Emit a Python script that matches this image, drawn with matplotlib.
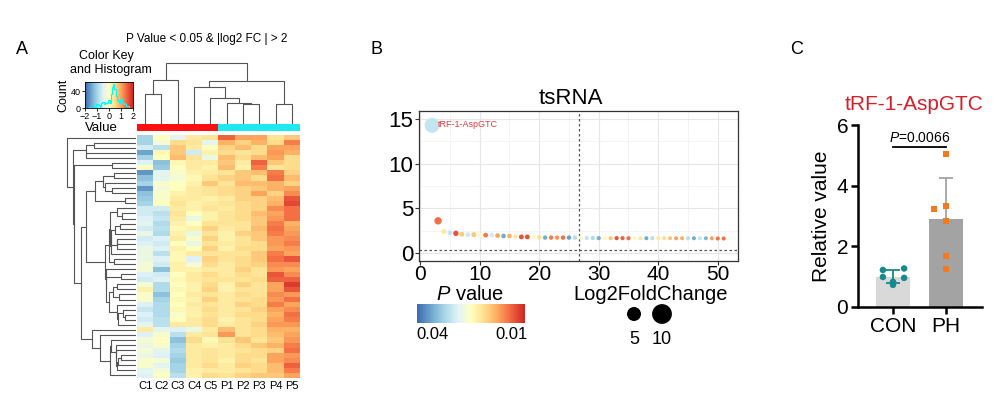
import numpy as np
import matplotlib
matplotlib.use("Agg")
import matplotlib.pyplot as plt
from matplotlib.colors import Normalize, ListedColormap, LinearSegmentedColormap
from matplotlib.ticker import MaxNLocator
import matplotlib.cm as cm

plt.rcParams['font.family'] = ['Liberation Sans', 'DejaVu Sans']
plt.rcParams['mathtext.fontset'] = 'custom'
plt.rcParams['mathtext.it'] = 'Liberation Sans:italic'
plt.rcParams['mathtext.rm'] = 'Liberation Sans'

# ---------------- data ----------------
col_labels = ['C1', 'C2', 'C3', 'C4', 'C5', 'P1', 'P2', 'P3', 'P4', 'P5']
group_labels = ['CON'] * 5 + ['PH'] * 5
heat_values = [
    [-1.0, 0.0, -0.4, 0.3, 0.4, 1.5, 1.0, 1.0, 0.4, 0.7],
    [-1.0, -0.2, 0.5, 0.4, -0.4, 0.9, 0.6, 0.9, 0.5, 1.3],
    [-0.6, -0.8, 0.7, 0.3, 0.0, 0.6, 0.8, 0.5, 1.0, 1.0],
    [-1.5, 0.1, 0.7, -0.6, 0.2, 0.5, 0.4, 0.5, 1.1, 0.9],
    [-1.0, 0.0, 0.8, 0.4, -0.3, 0.8, 0.5, 0.8, 1.0, 0.5],
    [-0.5, -1.2, 0.1, 0.3, 0.3, 0.7, 0.3, 1.5, 0.7, 0.5],
    [0.0, -1.1, 0.0, 0.3, 0.2, 0.8, 0.2, 1.3, 0.4, 0.5],
    [-1.6, -0.4, -0.1, 0.2, 0.3, 0.4, 0.7, 0.8, 1.3, 0.6],
    [-1.2, -0.4, -0.2, 0.1, 0.4, 0.6, 0.7, 0.5, 1.4, 0.8],
    [-1.0, -0.1, 0.0, 0.2, 0.7, 0.4, 0.8, 0.8, 0.9, 0.6],
    [-1.6, -0.2, 0.0, 0.3, 0.4, 0.5, 0.6, 0.7, 0.9, 1.0],
    [-1.2, -0.1, 0.2, 0.3, 0.4, 0.5, 0.6, 1.0, 0.6, 1.2],
    [-1.1, -0.1, 0.3, 0.3, 0.2, 0.3, 0.6, 0.6, 0.8, 1.6],
    [-1.0, 0.0, 0.4, 0.2, 0.3, 0.4, 0.5, 0.6, 0.9, 1.7],
    [-0.6, -0.6, 0.3, 0.2, 0.4, 0.3, 0.5, 0.6, 1.2, 1.4],
    [-0.6, -0.8, 0.4, 0.0, 0.2, 0.4, 0.5, 0.8, 1.0, 1.4],
    [-0.5, -0.7, 0.3, -0.3, 0.2, 0.4, 0.5, 0.7, 1.1, 1.4],
    [-0.4, -0.9, 0.2, 0.0, 0.4, 0.4, 0.4, 0.7, 1.3, 0.9],
    [-0.6, -0.8, 0.1, 0.2, 0.6, 0.3, 0.4, 0.8, 1.4, 1.0],
    [-0.3, -0.9, 0.2, -0.3, 0.4, 0.2, 0.6, 0.7, 1.3, 1.1],
    [-0.6, -0.5, 0.3, -0.1, 0.6, 0.2, 0.4, 0.7, 1.1, 1.2],
    [-0.5, -0.6, 0.0, -0.3, 0.4, 0.3, 0.4, 0.5, 1.1, 1.3],
    [-0.3, -0.5, 0.2, 0.0, 0.6, 0.2, 0.5, 0.5, 1.0, 1.1],
    [-0.3, -0.8, 0.1, 0.3, 0.4, 0.4, 0.4, 0.7, 1.3, 1.0],
    [-0.3, -0.5, 0.1, -0.5, 0.6, 0.4, 0.5, 0.7, 1.4, 1.6],
    [-0.2, -0.6, 0.2, -0.2, 0.5, 0.3, 0.5, 0.6, 1.2, 1.2],
    [-0.2, -1.2, 0.2, 0.2, 0.3, 0.3, 0.6, 0.4, 1.1, 1.0],
    [-0.5, -0.6, 0.0, 0.3, 0.5, 0.3, 0.5, 0.4, 1.6, 1.2],
    [-0.6, -0.5, 0.1, 0.3, 0.4, 0.4, 0.4, 0.5, 1.5, 1.5],
    [-0.2, -0.9, 0.0, 0.2, 0.5, 0.2, 0.6, 0.4, 1.0, 1.8],
    [0.2, -0.9, 0.1, 0.2, 0.6, 0.2, 0.4, 0.4, 1.0, 1.6],
    [-0.1, -1.2, 0.0, 0.3, 0.4, 0.3, 0.5, 0.4, 1.2, 1.1],
    [-0.1, -1.0, 0.1, 0.2, 0.6, 0.3, 0.4, 0.5, 1.1, 1.4],
    [-0.5, -0.9, 0.0, 0.3, 0.4, 0.3, 0.6, 0.5, 1.3, 1.0],
    [-0.7, -0.9, 0.1, 0.2, 0.5, 0.3, 0.4, 0.6, 1.0, 1.2],
    [-0.5, -0.9, -0.1, 0.2, 0.4, 0.3, 0.5, 0.5, 0.9, 1.4],
    [-0.6, -0.8, 0.0, 0.3, 0.5, 0.2, 0.4, 0.5, 1.0, 1.3],
    [-0.4, -0.8, 0.3, 0.3, 0.5, 0.3, 0.4, 0.6, 1.1, 1.1],
    [0.3, -0.4, -0.5, -0.3, 0.3, 0.8, 0.4, 0.5, 0.9, 0.9],
    [-0.5, -0.1, -0.8, 0.3, 0.4, 1.1, 0.4, 0.5, 0.8, 1.0],
    [-0.2, 0.0, -1.2, 0.5, 0.1, 0.4, 0.7, 0.4, 0.7, 1.1],
    [-0.3, -0.1, -1.0, 0.3, 0.2, 0.3, 0.5, 0.7, 0.9, 1.3],
    [-0.2, -0.4, -0.9, 0.3, 0.4, 0.3, 0.4, 0.5, 0.6, 1.4],
    [-0.3, -0.5, -1.0, 0.3, 0.4, 0.3, 0.5, 0.5, 1.0, 1.1],
    [-0.1, -0.2, -1.1, 0.3, 0.4, 0.2, 0.5, 0.4, 1.0, 1.2],
    [-0.1, -0.4, -1.0, 0.3, 0.5, 0.3, 0.6, 0.5, 0.8, 1.5],
    [-0.4, -0.2, -1.0, 0.2, 0.3, 0.3, 0.4, 0.5, 0.8, 1.3],
    [-0.5, 0.0, -0.8, 0.2, 0.5, 0.4, 0.6, 0.7, 0.7, 1.0],
]
# column dendrogram merges: (child a, child b, height); new ids start at 10
col_merges = [
    (0, 1, 30), (10, 2, 44), (6, 7, 20), (5, 12, 21), (4, 13, 26),
    (3, 14, 37), (8, 9, 20), (15, 16, 43), (11, 17, 61),
]

# panel B
ts_x = list(range(2, 52))
ts_y = [14.3, 3.6, 2.4, 2.25, 2.2, 2.1, 2.05, 2.05, 2.0, 2.0,
        2.0, 1.95, 1.9, 1.9, 1.85, 1.8, 1.8, 1.78, 1.75, 1.72,
        1.72, 1.72, 1.72, 1.72, 1.72, 1.7, 1.68, 1.68, 1.66, 1.66,
        1.66, 1.66, 1.66, 1.65, 1.65, 1.65, 1.65, 1.65, 1.65, 1.65,
        1.65, 1.65, 1.65, 1.65, 1.65, 1.65, 1.65, 1.65, 1.62, 1.62]
ts_fc = [5.7, 1.4, 0.65, 0.6, 0.75, 0.6, 0.6, 0.6, 0.55, 0.6,
         0.55, 0.55, 0.55, 0.55, 0.5, 0.6, 0.6, 0.5, 0.5, 0.5,
         0.5, 0.5, 0.5, 0.5, 0.5, 0.45, 0.45, 0.45, 0.45, 0.45,
         0.45, 0.45, 0.45, 0.45, 0.42, 0.42, 0.42, 0.42, 0.42, 0.42,
         0.42, 0.42, 0.42, 0.42, 0.42, 0.42, 0.42, 0.42, 0.42, 0.42]
ts_p = [0.033, 0.011, 0.022, 0.033, 0.009, 0.018, 0.032, 0.018, 0.025, 0.012,
        0.032, 0.015, 0.040, 0.016, 0.022, 0.009, 0.009, 0.025, 0.021, 0.040,
        0.012, 0.014, 0.011, 0.041, 0.034, 0.026, 0.033, 0.035, 0.040, 0.025,
        0.018, 0.009, 0.010, 0.011, 0.025, 0.022, 0.040, 0.034, 0.022, 0.021,
        0.018, 0.015, 0.016, 0.034, 0.040, 0.033, 0.039, 0.015, 0.011, 0.011]
label_name = 'tRF-1-AspGTC'
size_keys = [5, 10]
p_ticks = [0.04, 0.01]

# panel C
groups = ['CON', 'PH']
con_values = [1.22, 1.27, 0.99, 0.96, 0.73, 0.83]
ph_values = [5.05, 3.23, 3.33, 2.84, 1.68, 1.25]
p_text = '0.0066'

# ---------------- figure ----------------
W, H = 1008, 397
fig = plt.figure(figsize=(W / 100, H / 100), dpi=100)


def ax_px(x0, y0, x1, y1):
    return fig.add_axes([x0 / W, 1 - y1 / H, (x1 - x0) / W, (y1 - y0) / H])


def ftext(x, y, s, **kw):
    fig.text(x / W, 1 - y / H, s, **kw)


# ======== Panel A ========
hm = np.array(heat_values)
nrow, ncol = hm.shape
base = plt.get_cmap('RdYlBu_r')
cmapA = LinearSegmentedColormap.from_list('soft', base(np.linspace(0.08, 0.92, 256)))

axh = ax_px(137, 135, 300, 378)
axh.imshow(hm, cmap=cmapA, vmin=-2, vmax=2, aspect='auto', interpolation='nearest')
axh.set_xticks(range(ncol))
axh.set_xticklabels(col_labels, fontsize=8)
axh.tick_params(length=0, pad=2)
axh.set_yticks([])
for s in axh.spines.values():
    s.set_visible(False)

# group colour bar
axg = ax_px(137, 124, 300, 131)
gcols = ListedColormap(['#ff1010', '#1ee8f0'])
axg.imshow([[0 if g == 'CON' else 1 for g in group_labels]], cmap=gcols, aspect='auto',
           vmin=0, vmax=1, interpolation='nearest')
axg.axis('off')

# column dendrogram
axcd = ax_px(137, 62, 300, 124)
pos = {i: float(i) for i in range(ncol)}
hgt = {i: 0.0 for i in range(ncol)}
for k, (a, b, h) in enumerate(col_merges):
    nid = ncol + k
    axcd.plot([pos[a], pos[a], pos[b], pos[b]], [hgt[a], h, h, hgt[b]], color='#555555', lw=0.8)
    pos[nid] = (pos[a] + pos[b]) / 2
    hgt[nid] = h
axcd.set_xlim(-0.5, ncol - 0.5)
axcd.set_ylim(0, 62)
axcd.axis('off')

# row dendrogram (adjacent-constrained average linkage on the rows)
clusters = [dict(m=[i], pos=float(i), h=0.0) for i in range(nrow)]
row_links = []
while len(clusters) > 1:
    best = None
    for k in range(len(clusters) - 1):
        A, B = clusters[k], clusters[k + 1]
        d = np.mean([np.linalg.norm(hm[i] - hm[j]) for i in A['m'] for j in B['m']])
        if best is None or d < best[0]:
            best = (d, k)
    d, k = best
    A, B = clusters[k], clusters[k + 1]
    h = max(d, A['h'], B['h']) + 0.02
    row_links.append((A['pos'], A['h'], B['pos'], B['h'], h))
    clusters[k:k + 2] = [dict(m=A['m'] + B['m'], pos=(A['pos'] + B['pos']) / 2, h=h)]
axrd = ax_px(66, 135, 136, 378)
for (pa, ha, pb, hb, h) in row_links:
    axrd.plot([ha, h, h, hb], [pa, pa, pb, pb], color='#555555', lw=0.8)
maxh = max(l[4] for l in row_links)
axrd.set_xlim(maxh * 1.01, 0)
axrd.set_ylim(nrow - 0.5, -0.5)
axrd.axis('off')

# colour key with histogram
axk = ax_px(85, 82, 133, 108)
counts, edges = np.histogram(hm.ravel(), bins=np.arange(-2.05, 2.1, 0.1))
ytop = counts.max() * 1.1
grad = np.linspace(-2, 2, 256)[None, :]
axk.imshow(grad, cmap=cmapA, vmin=-2, vmax=2, aspect='auto', extent=(-2, 2, 0, ytop))
axk.step(edges[:-1], counts, where='post', color='#00ffff', lw=0.8)
axk.set_xlim(-2, 2)
axk.set_ylim(0, ytop)
axk.set_xticks([-2, -1, 0, 1, 2])
axk.yaxis.set_major_locator(MaxNLocator(nbins=2, integer=True))
axk.tick_params(labelsize=6.5, length=2, pad=1, width=0.6)
for s in axk.spines.values():
    s.set_linewidth(0.6)
axk.set_ylabel('Count', fontsize=9, labelpad=1)

ftext(22, 50, 'A', fontsize=13, ha='center', va='center')
ftext(207, 39, 'P Value < 0.05 & |log2 FC | > 2', fontsize=8.5, ha='center', va='center')
ftext(106, 56, 'Color Key', fontsize=9, ha='center', va='center')
ftext(111, 70, 'and Histogram', fontsize=9, ha='center', va='center')
ftext(101, 128, 'Value', fontsize=9.5, ha='center', va='center')

# ======== Panel B ========
axb = ax_px(419, 111, 738, 261)
normB = Normalize(vmin=0.005, vmax=0.046)
baseB = plt.get_cmap('RdYlBu')
cmapB = LinearSegmentedColormap.from_list('softB', baseB(np.linspace(0.08, 0.92, 256)))
size_scale = 20.3
axb.scatter(ts_x, ts_y, s=np.array(ts_fc) * size_scale, c=ts_p, cmap=cmapB, norm=normB,
            edgecolors='none', zorder=3)
axb.text(ts_x[0] + 0.9, ts_y[0] + 0.1, label_name, color='#e8383d', fontsize=6.5,
         va='center', ha='left', zorder=4)
axb.axvline(26.7, color='#555555', ls=(0, (2, 2)), lw=0.9, zorder=2)
axb.axhline(0.35, color='#555555', ls=(0, (2, 2)), lw=0.9, zorder=2)
axb.set_xlim(-0.2, 53.4)
axb.set_ylim(-0.9, 15.9)
axb.set_xticks([0, 10, 20, 30, 40, 50])
axb.set_yticks([0, 5, 10, 15])
axb.set_xticks([5, 15, 25, 35, 45], minor=True)
axb.set_yticks([2.5, 7.5, 12.5], minor=True)
axb.grid(True, which='major', color='#e6e6e6', lw=0.8)
axb.grid(True, which='minor', color='#f0f0f0', lw=0.5)
axb.set_axisbelow(True)
axb.tick_params(which='major', labelsize=16, length=3, pad=1, color='#333333')
axb.tick_params(axis='x', which='major', labelsize=15, pad=0)
axb.tick_params(which='minor', length=0)
for s in axb.spines.values():
    s.set_color('#333333')
    s.set_linewidth(0.9)
ftext(571, 98, 'tsRNA', fontsize=16, ha='center', va='center')
ftext(376, 50, 'B', fontsize=13, ha='center', va='center')

# P value colour bar
cax = ax_px(417, 304, 525, 323)
sm = cm.ScalarMappable(norm=normB, cmap=cmapB)
cb = fig.colorbar(sm, cax=cax, orientation='horizontal')
cax.invert_xaxis()
cb.set_ticks(p_ticks)
cb.set_ticklabels([f'{v:.2f}' for v in p_ticks])
cb.outline.set_visible(False)
cax.tick_params(labelsize=12, length=0, pad=3)
ftext(470, 295, r'$\mathit{P}$ value', fontsize=14.5, ha='center', va='center')

# size legend
ftext(651, 295, 'Log2FoldChange', fontsize=14.5, ha='center', va='center')
axl = ax_px(600, 300, 700, 345)
axl.set_xlim(600, 700)
axl.set_ylim(345, 300)
for k, key in enumerate(size_keys):
    xk = 634 + 28 * k
    axl.scatter([xk], [314], s=key * size_scale, color='black', edgecolors='none')
    axl.text(xk, 339, str(key), fontsize=13, ha='center', va='center')
axl.axis('off')

# ======== Panel C ========
axc = ax_px(858, 125, 982, 307)
vals = [np.array(con_values), np.array(ph_values)]
means = [v.mean() for v in vals]
sds = [v.std(ddof=1) for v in vals]
bar_cols = ['#d9d9d9', '#a3a3a3']
err_cols = ['#168a8c', '#a3a3a3']
pt_cols = ['#168a8c', '#f47a20']
markers = ['o', 's']
offsets = [[-0.19, 0.21, -0.19, 0.21, 0.0, 0.0], [0.0, -0.23, 0.0, 0.0, 0.0, 0.0]]
axc.bar([0, 1], means, width=0.64, color=bar_cols, zorder=1)
for i in range(2):
    axc.errorbar([i], [means[i]], yerr=[[sds[i]], [sds[i]]], color=err_cols[i], capsize=5,
                 lw=1.3, capthick=1.3, zorder=2)
    axc.scatter(np.full(len(vals[i]), i) + np.array(offsets[i]), vals[i], s=22,
                marker=markers[i], color=pt_cols[i], zorder=3, edgecolors='none')
axc.plot([0, 1], [5.28, 5.28], color='black', lw=1.3)
axc.text(0.5, 5.33, r'$\mathit{P}$=' + p_text, fontsize=10, ha='center', va='bottom')
axc.set_xlim(-0.66, 1.68)
axc.set_ylim(0, 6)
axc.set_yticks([0, 2, 4, 6])
axc.set_xticks([0, 1])
axc.set_xticklabels(groups)
axc.tick_params(labelsize=15, width=1.8, length=5, pad=2)
for side in ['top', 'right']:
    axc.spines[side].set_visible(False)
for side in ['left', 'bottom']:
    axc.spines[side].set_linewidth(1.8)
axc.set_ylabel('Relative value', fontsize=15, labelpad=4)
ftext(914, 104, 'tRF-1-AspGTC', fontsize=15, color='#d51f2a', ha='center', va='center')
ftext(797, 50, 'C', fontsize=13, ha='center', va='center')

fig.savefig('out.png', dpi=100)
